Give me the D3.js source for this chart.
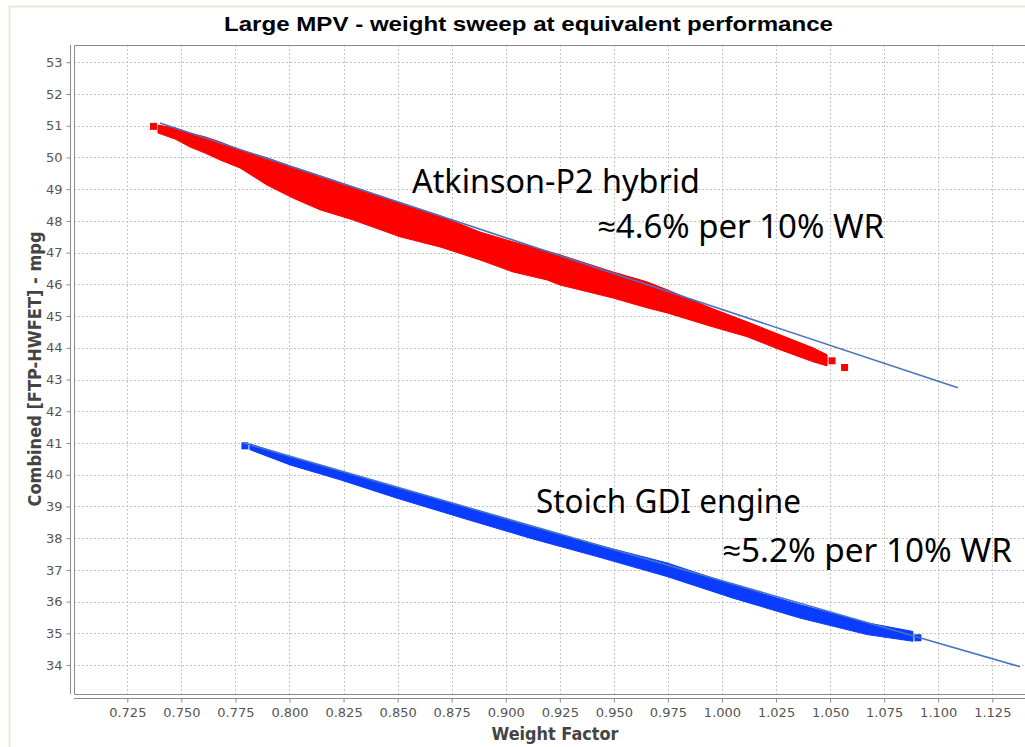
<!DOCTYPE html>
<html>
<head>
<meta charset="utf-8">
<script src="https://cdn.jsdelivr.net/npm/d3@7"></script>
<style>
  body { margin: 0; background: #fff; }
  .tick text { font-family: 'DejaVu Sans', sans-serif; font-size: 13px; fill: #555; }
  .tick line { stroke: #888; }
  .grid line { stroke: #c4c4c4; stroke-dasharray: 2,2; }
</style>
</head>
<body>
<script>
// weight factor ticks and mpg ticks
var xTicks = [0.725, 0.750, 0.775, 0.800, 0.825, 0.850, 0.875, 0.900, 0.925, 0.950, 0.975, 1.000, 1.025, 1.050, 1.075, 1.100, 1.125];
var yTicks = [34, 35, 36, 37, 38, 39, 40, 41, 42, 43, 44, 45, 46, 47, 48, 49, 50, 51, 52, 53];

// Atkinson-P2 hybrid cloud: weight factor, upper and lower edge of the cloud (mpg)
var redWF  = [0.7392, 0.7471, 0.7540, 0.7609, 0.7679, 0.7771, 0.7896, 0.8016, 0.8141, 0.8294, 0.8511, 0.8696, 0.8881, 0.9034, 0.9191, 0.9251, 0.9496, 0.9653, 0.9746, 0.9958, 1.0116, 1.0268, 1.0421, 1.0486];
var redTop = [51.02, 50.93, 50.77, 50.65, 50.49, 50.24, 49.99, 49.70, 49.42, 49.07, 48.57, 48.16, 47.65, 47.34, 47.05, 46.93, 46.39, 46.08, 45.83, 45.23, 44.82, 44.41, 44.00, 43.78];
var redBot = [50.77, 50.58, 50.33, 50.14, 49.92, 49.67, 49.13, 48.72, 48.35, 48.03, 47.50, 47.18, 46.77, 46.39, 46.14, 45.98, 45.57, 45.26, 45.10, 44.66, 44.35, 43.94, 43.56, 43.43];
// isolated runs at both ends
var redEndWF  = [0.7371, 1.0509, 1.0567];
var redEndMpg = [50.98, 43.59, 43.38];

// Stoich GDI engine cloud
var blueWF  = [0.7817, 0.8002, 0.8234, 0.8497, 0.8802, 0.9112, 0.9422, 0.9746, 1.0051, 1.0361, 1.0671, 1.0883];
var blueTop = [40.97, 40.57, 40.10, 39.58, 39.00, 38.37, 37.79, 37.22, 36.53, 35.90, 35.33, 35.06];
var blueBot = [40.79, 40.31, 39.84, 39.26, 38.63, 38.00, 37.42, 36.79, 36.11, 35.48, 34.96, 34.75];
var blueEndWF  = [0.7794, 1.0906];
var blueEndMpg = [40.91, 34.86];

// trend lines
var redFitWF   = [0.7401, 1.1091];
var redFitMpg  = [51.09, 42.74];
var blueFitWF  = [0.7785, 1.1378];
var blueFitMpg = [41.01, 33.95];

(function() {
    var w = 1025, h = 747;
    var pLeft = 74, pTop = 45, pBottom = 694;

    var svg = d3.select('body').append('svg')
        .attr('width', w)
        .attr('height', h)
        .style('display', 'block');

    // outer frame
    svg.append('path')
        .attr('d', 'M9.5,' + h + 'V6.5H' + w)
        .attr('fill', 'none')
        .attr('stroke', '#ebe8d8')
        .attr('stroke-width', 2);

    var x = d3.scaleLinear().domain([0.70035, 1.1429]).range([pLeft, 1031]);
    var y = d3.scaleLinear().domain([33.088, 53.545]).range([pBottom, pTop]);

    svg.append('clipPath').attr('id', 'plot')
        .append('rect')
        .attr('x', pLeft).attr('y', pTop)
        .attr('width', w - pLeft).attr('height', pBottom - pTop);

    // grid
    var grid = svg.append('g').attr('class', 'grid');
    grid.selectAll('.gx').data(xTicks).enter().append('line')
        .attr('x1', function(d) { return Math.round(x(d)) + 0.5; })
        .attr('x2', function(d) { return Math.round(x(d)) + 0.5; })
        .attr('y1', pTop).attr('y2', pBottom);
    grid.selectAll('.gy').data(yTicks).enter().append('line')
        .attr('y1', function(d) { return Math.round(y(d)) + 0.5; })
        .attr('y2', function(d) { return Math.round(y(d)) + 0.5; })
        .attr('x1', pLeft).attr('x2', w);

    // plot outline
    svg.append('path')
        .attr('d', 'M' + w + ',' + (pTop + 0.5) + 'H' + (pLeft + 0.5) + 'V' + (pBottom + 0.5) + 'H' + w)
        .attr('fill', 'none')
        .attr('stroke', '#8a8a8a');

    var plot = svg.append('g').attr('clip-path', 'url(#plot)');

    function band(xs, tops, bots) {
        return xs.map(function(d, i) { return { wf: d, hi: tops[i], lo: bots[i] }; });
    }
    var area = d3.area()
        .x(function(d) { return x(d.wf); })
        .y0(function(d) { return y(d.lo); })
        .y1(function(d) { return y(d.hi); });

    function cloud(xs, tops, bots, endX, endY, color) {
        plot.append('path')
            .datum(band(xs, tops, bots))
            .attr('d', area)
            .attr('fill', color)
            .attr('stroke', color)
            .attr('stroke-width', 1);
        plot.selectAll(null).data(endX).enter().append('rect')
            .attr('x', function(d) { return x(d) - 3.5; })
            .attr('y', function(d, i) { return y(endY[i]) - 3.5; })
            .attr('width', 7).attr('height', 7)
            .attr('fill', color);
    }
    cloud(redWF, redTop, redBot, redEndWF, redEndMpg, '#ff0000');
    cloud(blueWF, blueTop, blueBot, blueEndWF, blueEndMpg, '#0a3cff');

    function fit(xs, ys) {
        plot.append('line')
            .attr('x1', x(xs[0])).attr('y1', y(ys[0]))
            .attr('x2', x(xs[1])).attr('y2', y(ys[1]))
            .attr('stroke', '#4674c2')
            .attr('stroke-width', 1.6);
    }
    fit(redFitWF, redFitMpg);
    fit(blueFitWF, blueFitMpg);

    // axes
    var xAxis = svg.append('g')
        .attr('transform', 'translate(0,698.5)')
        .call(d3.axisBottom(x).tickValues(xTicks).tickFormat(d3.format('.3f')).tickSize(4).tickPadding(5));
    xAxis.select('.domain').remove();
    svg.append('line')
        .attr('x1', pLeft).attr('x2', w)
        .attr('y1', 698.5).attr('y2', 698.5)
        .attr('stroke', '#8a8a8a');

    var yAxis = svg.append('g')
        .attr('transform', 'translate(70.5,0)')
        .call(d3.axisLeft(y).tickValues(yTicks).tickSize(4).tickPadding(4));
    yAxis.select('.domain').remove();
    svg.append('line')
        .attr('x1', 70.5).attr('x2', 70.5)
        .attr('y1', pTop).attr('y2', pBottom)
        .attr('stroke', '#8a8a8a');

    // titles
    svg.append('text')
        .attr('x', 528.5).attr('y', 30.5)
        .attr('text-anchor', 'middle')
        .attr('textLength', 609).attr('lengthAdjust', 'spacingAndGlyphs')
        .style('font-family', 'Liberation Sans, Arial, sans-serif')
        .style('font-weight', 'bold')
        .style('font-size', '21px')
        .style('fill', '#000')
        .text('Large MPV - weight sweep at equivalent performance');

    svg.append('text')
        .attr('x', 555).attr('y', 740)
        .attr('text-anchor', 'middle')
        .attr('textLength', 127).attr('lengthAdjust', 'spacingAndGlyphs')
        .style('font-family', 'DejaVu Sans, sans-serif')
        .style('font-weight', 'bold')
        .style('font-size', '17px')
        .style('fill', '#444')
        .text('Weight Factor');

    svg.append('text')
        .attr('transform', 'translate(41,369) rotate(-90)')
        .attr('text-anchor', 'middle')
        .attr('textLength', 275).attr('lengthAdjust', 'spacingAndGlyphs')
        .style('font-family', 'DejaVu Sans, sans-serif')
        .style('font-weight', 'bold')
        .style('font-size', '17px')
        .style('fill', '#444')
        .text('Combined [FTP-HWFET] - mpg');

    // annotations
    var notes = [
        { t: 'Atkinson-P2 hybrid', x: 412, y: 193, len: 288 },
        { t: '\u22484.6% per 10% WR', x: 597, y: 238, len: 287 },
        { t: 'Stoich GDI engine', x: 536, y: 513, len: 265 },
        { t: '\u22485.2% per 10% WR', x: 722, y: 562, len: 290 }
    ];
    svg.selectAll('.note').data(notes).enter().append('text')
        .attr('class', 'note')
        .attr('x', function(d) { return d.x; })
        .attr('y', function(d) { return d.y; })
        .attr('textLength', function(d) { return d.len; })
        .attr('lengthAdjust', 'spacingAndGlyphs')
        .style('font-family', 'Noto Sans, Open Sans, sans-serif')
        .style('font-size', '32px')
        .style('fill', '#000')
        .text(function(d) { return d.t; });
})();
</script>
</body>
</html>
